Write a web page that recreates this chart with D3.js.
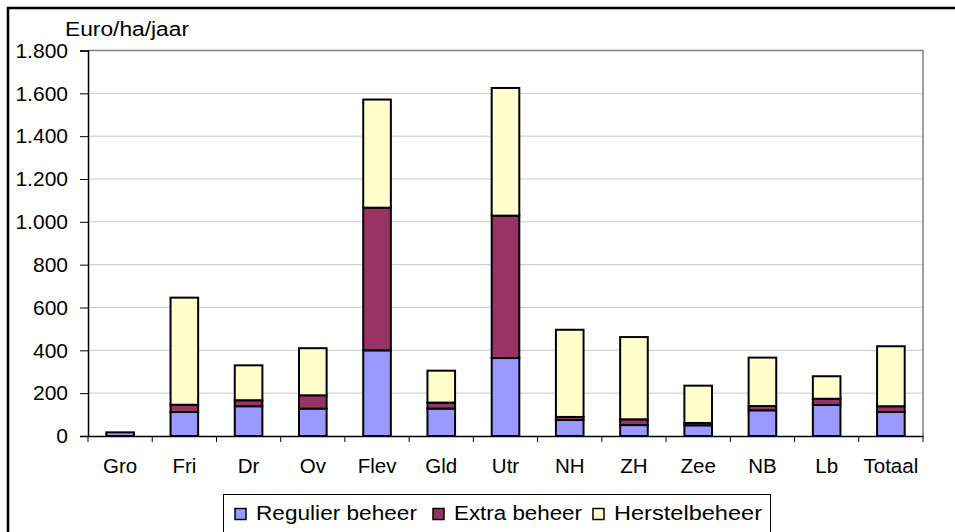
<!DOCTYPE html>
<html><head><meta charset="utf-8">
<script src="https://cdn.jsdelivr.net/npm/d3@7"></script>
<style>body{margin:0;background:#fff;}svg{display:block;font-family:"Liberation Sans",Arial,sans-serif;}</style>
</head><body>
<svg id="c" width="955" height="532"></svg>
<script>
const categories = ["Gro","Fri","Dr","Ov","Flev","Gld","Utr","NH","ZH","Zee","NB","Lb","Totaal"];
const regulier  = [17,112,139,128,400,128,364,75,51,50,120,145,112];
const extra     = [0,34,28,62,666,28,665,14,27,11,20,29,27];
const herstel   = [0,500,163,220,505,149,596,407,384,174,226,105,280];
const seriesNames = ["Regulier beheer","Extra beheer","Herstelbeheer"];
const seriesColors = ["#9999FF","#993366","#FFFFCC"];
const yTicks = [0,200,400,600,800,1000,1200,1400,1600,1800];
const yLabel = "Euro/ha/jaar";

const svg = d3.select("#c");
const L=88, R=923, T=50.5, B=436;
const x = d3.scaleBand().domain(categories).range([L,R]).padding(0);
const y = d3.scaleLinear().domain([0,1800]).range([B,T]);
const loc = d3.formatLocale({decimal:",",thousands:".",grouping:[3],currency:["€",""]});
const fmt = loc.format(",");

// outer border
svg.append("rect").attr("x",8).attr("y",8).attr("width",1000).attr("height",600)
  .attr("fill","none").attr("stroke","#000").attr("stroke-width",2.5);

// gridlines
svg.append("g").selectAll("line").data(yTicks.filter(d=>d>0&&d<1800)).join("line")
  .attr("x1",L).attr("x2",R).attr("y1",d=>y(d)).attr("y2",d=>y(d))
  .attr("stroke","#c8c8c8").attr("stroke-width",1);
// plot border top/right
svg.append("path").attr("d",`M${L},${y(1800)}H${R}V${B}`).attr("fill","none")
  .attr("stroke","#808080").attr("stroke-width",1.5);

// stacked data
const rows = categories.map((c,i)=>({cat:c,r:regulier[i],e:extra[i],h:herstel[i]}));
const stack = d3.stack().keys(["r","e","h"])(rows);
const bw = x.bandwidth()*0.43;
stack.forEach((s,si)=>{
  svg.append("g").selectAll("rect").data(s.filter(d=>d[1]-d[0]>0)).join("rect")
    .attr("x",d=>x(d.data.cat)+x.bandwidth()/2-bw/2)
    .attr("width",bw)
    .attr("y",d=>y(d[1]))
    .attr("height",d=>y(d[0])-y(d[1]))
    .attr("fill",seriesColors[si]).attr("stroke","#000").attr("stroke-width",2);
});

// y axis
const ya = svg.append("g").attr("transform",`translate(${L},0)`)
  .call(d3.axisLeft(y).tickValues(yTicks).tickFormat(fmt).tickSize(8).tickPadding(12));
ya.select(".domain").attr("stroke","#000").attr("stroke-width",1.5);
ya.selectAll(".tick line").attr("stroke","#000");
ya.selectAll("text").attr("font-size","21px").attr("fill","#000")
  .attr("font-family","Liberation Sans, Arial, sans-serif");

// x axis
const xa = svg.append("g").attr("transform",`translate(0,${B})`)
  .call(d3.axisBottom(x).tickSize(0).tickPadding(22));
xa.select(".domain").attr("stroke","#000").attr("stroke-width",1.5);
xa.selectAll("text").attr("font-size","20.5px").attr("fill","#000")
  .attr("font-family","Liberation Sans, Arial, sans-serif");
// category separator ticks
const bounds = d3.range(categories.length+1).map(i=>L+i*x.bandwidth());
svg.append("g").selectAll("line").data(bounds).join("line")
  .attr("x1",d=>d).attr("x2",d=>d).attr("y1",B).attr("y2",B+6)
  .attr("stroke","#000").attr("stroke-width",1);

// y label
svg.append("text").attr("x",65).attr("y",36).attr("font-size","20px")
  .attr("textLength",124).attr("lengthAdjust","spacingAndGlyphs").text(yLabel);

// legend
const lg = svg.append("g");
lg.append("rect").attr("x",223.5).attr("y",494.5).attr("width",547).attr("height",60)
  .attr("fill","#fff").attr("stroke","#000").attr("stroke-width",1);
const legX = [235,433,593];
const legTextX = [256,454,614];
const legTextW = [161,128,148];
seriesNames.forEach((n,i)=>{
  lg.append("rect").attr("x",legX[i]).attr("y",508.5).attr("width",11).attr("height",11)
    .attr("fill",seriesColors[i]).attr("stroke","#000").attr("stroke-width",1.5);
  lg.append("text").attr("x",legTextX[i]).attr("y",519.5).attr("font-size","20px")
    .attr("textLength",legTextW[i]).attr("lengthAdjust","spacingAndGlyphs").text(n);
});
</script>
</body></html>
